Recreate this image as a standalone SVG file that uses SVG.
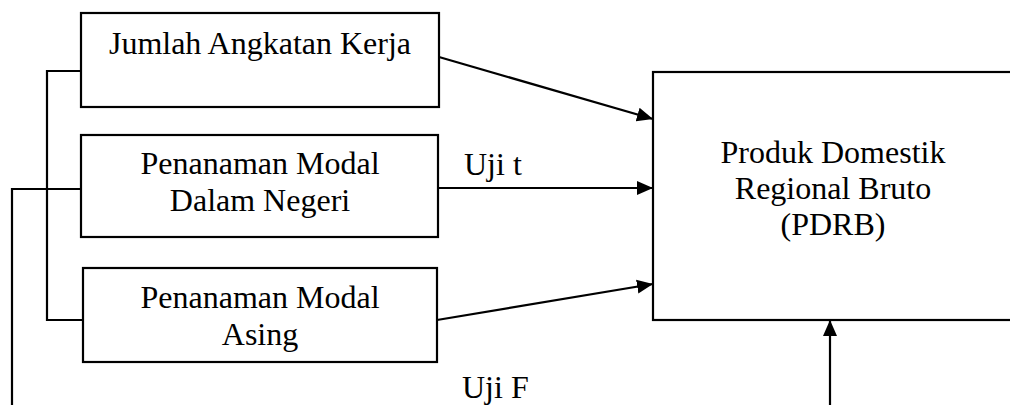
<svg xmlns="http://www.w3.org/2000/svg" width="1010" height="405" viewBox="0 0 1010 405">
<style>
.box{fill:#fff;stroke:#000;stroke-width:2.2}
.t{font-family:"Liberation Serif","Times New Roman",serif;font-size:32px;fill:#000;text-anchor:middle}
.l{font-family:"Liberation Serif","Times New Roman",serif;font-size:32px;fill:#000}
.c{fill:none;stroke:#000;stroke-width:2.2}
</style>
<defs>
<marker id="ah" markerUnits="userSpaceOnUse" markerWidth="18" markerHeight="16" refX="16" refY="8" orient="auto">
<path d="M0,1 L16,8 L0,15 Z" fill="#000"/>
</marker>
</defs>
<g id="connectors">
<polyline class="c" points="81,71 47,71 47,320 83,320"/>
<polyline class="c" points="81,189 12,189 12,410"/>
<line class="c" x1="439" y1="57" x2="653" y2="119" marker-end="url(#ah)"/>
<line class="c" x1="438" y1="188" x2="653" y2="188" marker-end="url(#ah)"/>
<line class="c" x1="437" y1="320" x2="653" y2="284" marker-end="url(#ah)"/>
<line class="c" x1="830" y1="410" x2="830" y2="320" marker-end="url(#ah)"/>
<text class="l" x="464" y="175">Uji t</text>
<text class="l" x="462" y="398">Uji F</text>
</g>
<g id="n1">
<rect class="box" x="81" y="13" width="358" height="94"/>
<text class="t" x="260" y="54">Jumlah Angkatan Kerja</text>
</g>
<g id="n2">
<rect class="box" x="81" y="135" width="357" height="102"/>
<text class="t" x="260" y="174">Penanaman Modal</text>
<text class="t" x="260" y="211">Dalam Negeri</text>
</g>
<g id="n3">
<rect class="box" x="83" y="268" width="354" height="94"/>
<text class="t" x="260" y="308">Penanaman Modal</text>
<text class="t" x="260" y="345">Asing</text>
</g>
<g id="n4">
<rect class="box" x="653" y="72" width="370" height="248"/>
<text class="t" x="833" y="163">Produk Domestik</text>
<text class="t" x="833" y="199">Regional Bruto</text>
<text class="t" x="833" y="235">(PDRB)</text>
</g>
</svg>
